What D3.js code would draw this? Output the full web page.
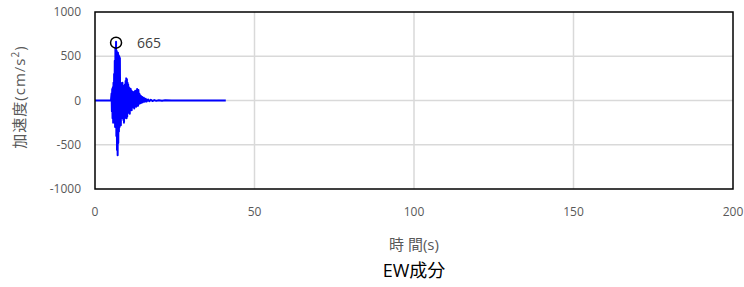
<!DOCTYPE html>
<html lang="ja">
<head>
<meta charset="utf-8">
<title>EW成分</title>
<script src="https://cdn.jsdelivr.net/npm/d3@7"></script>
<style>
  body { margin: 0; background: #fff; }
  text { font-family: "Open Sans", "Noto Sans CJK JP", sans-serif; }
</style>
</head>
<body>
<div id="chart"></div>
<script>
// 読み取った波形 (時間 s, 加速度 cm/s2)
var timeS = [0, 5.0, 5.2, 5.3, 5.4, 5.5, 5.6, 5.7, 5.8, 5.9, 6.0, 6.1, 6.2, 6.3, 6.4, 6.5, 6.6, 6.7, 6.8, 6.9,
  7.0, 7.1, 7.2, 7.3, 7.4, 7.5, 7.6, 7.7, 7.8, 7.9, 8.0, 8.1, 8.2, 8.3, 8.4, 8.5, 8.6, 8.7, 8.8, 8.9,
  9.0, 9.1, 9.2, 9.3, 9.4, 9.5, 9.6, 9.7, 9.8, 9.9, 10.0, 10.1, 10.2, 10.3, 10.4, 10.5, 10.6, 10.7, 10.8, 10.9,
  11.0, 11.1, 11.2, 11.3, 11.4, 11.5, 11.6, 11.7, 11.8, 11.9, 12.0, 12.1, 12.2, 12.3, 12.4, 12.5, 12.6, 12.7, 12.8, 12.9,
  13.0, 13.1, 13.2, 13.3, 13.4, 13.5, 13.6, 13.7, 13.8, 13.9, 14.0, 14.2, 14.4, 14.6, 14.8, 15.0, 15.3, 15.6, 15.9, 16.2,
  16.6, 17.0, 17.5, 18.0, 18.6, 19.2, 20, 21, 22, 24, 27, 41];
var accel = [0, 0, 80, -120, 130, -200, 150, -250, 200, -180, 300, -220, 450, -300, 600, -250, 665, -400, 560, -560,
  520, -620, 540, -480, 510, -350, 500, -300, 480, -260, 200, -280, 150, -200, 180, -160, 200, -180, 170, -220,
  150, -250, 120, -200, 180, -150, 220, -120, 250, -200, 240, -180, 200, -140, 180, -130, 150, -120, 140, -150,
  120, -100, 130, -90, 110, -110, 90, -80, 100, -70, 80, -60, 90, -90, 100, -60, 110, -50, 90, -70,
  110, -50, 130, -60, 100, -60, 120, -40, 80, -35, 70, -30, 50, -25, 40, -20, 30, -15, 20, -12,
  12, -9, 8, -6, 5, -4, 3, -2, 2, -1, 1, 0];

var xTicks = [0, 50, 100, 150, 200];
var yTicks = [-1000, -500, 0, 500, 1000];
var peak = { t: 6.6, a: 665, label: "665" };

var W = 744, H = 287;
var m = { left: 95, right: 11, top: 12, bottom: 98 };

var svg = d3.select("#chart").append("svg")
  .attr("width", W).attr("height", H);

var x = d3.scaleLinear().domain([0, 200]).range([m.left, W - m.right]);
var y = d3.scaleLinear().domain([-1000, 1000]).range([H - m.bottom, m.top]);

// grid
svg.append("g").selectAll("line").data(xTicks.slice(1, -1)).enter().append("line")
  .attr("x1", d => x(d)).attr("x2", d => x(d))
  .attr("y1", y(1000)).attr("y2", y(-1000))
  .attr("stroke", "#d9d9d9").attr("stroke-width", 1.5);
svg.append("g").selectAll("line").data(yTicks.slice(1, -1)).enter().append("line")
  .attr("x1", x(0)).attr("x2", x(200))
  .attr("y1", d => y(d)).attr("y2", d => y(d))
  .attr("stroke", "#d9d9d9").attr("stroke-width", 1.5);

// waveform
var line = d3.line().x((d, i) => x(timeS[i])).y(d => y(d));
svg.append("path").datum(accel)
  .attr("d", line)
  .attr("fill", "none")
  .attr("stroke", "#0000ff")
  .attr("stroke-width", 2)
  .attr("stroke-linejoin", "round");

// frame
svg.append("rect")
  .attr("x", x(0)).attr("y", y(1000))
  .attr("width", x(200) - x(0)).attr("height", y(-1000) - y(1000))
  .attr("fill", "none").attr("stroke", "#000").attr("stroke-width", 1.5);

// ticks
svg.append("g").selectAll("text").data(yTicks).enter().append("text")
  .attr("x", x(0) - 14).attr("y", d => y(d)).attr("dy", "0.35em")
  .attr("text-anchor", "end").attr("font-size", 12).attr("fill", "#595959")
  .text(d => d);
svg.append("g").selectAll("text").data(xTicks).enter().append("text")
  .attr("x", d => x(d)).attr("y", y(-1000) + 27)
  .attr("text-anchor", "middle").attr("font-size", 12).attr("fill", "#595959")
  .text(d => d);

// peak marker
svg.append("circle")
  .attr("cx", x(peak.t)).attr("cy", y(peak.a) + 1).attr("r", 5.5)
  .attr("fill", "none").attr("stroke", "#000").attr("stroke-width", 1.5);
svg.append("text")
  .attr("x", x(peak.t) + 21).attr("y", y(peak.a) + 1).attr("dy", "0.35em")
  .attr("font-size", 14).attr("fill", "#404040")
  .text(peak.label);

// axis titles
var yl = svg.append("text")
  .attr("transform", "translate(25,97) rotate(-90)")
  .attr("text-anchor", "middle").attr("font-size", 15).attr("fill", "#595959")
  .attr("letter-spacing", 1);
yl.append("tspan").text("加速度(cm/s");
yl.append("tspan").attr("font-size", 10).attr("dy", -6).text("2");
yl.append("tspan").attr("dy", 6).text(")");

svg.append("text")
  .attr("x", x(100)).attr("y", 250)
  .attr("text-anchor", "middle").attr("font-size", 15).attr("fill", "#595959")
  .text("時 間(s)");

svg.append("text")
  .attr("x", x(100)).attr("y", 277)
  .attr("text-anchor", "middle").attr("font-size", 18).attr("fill", "#000")
  .text("EW成分");
</script>
</body>
</html>
